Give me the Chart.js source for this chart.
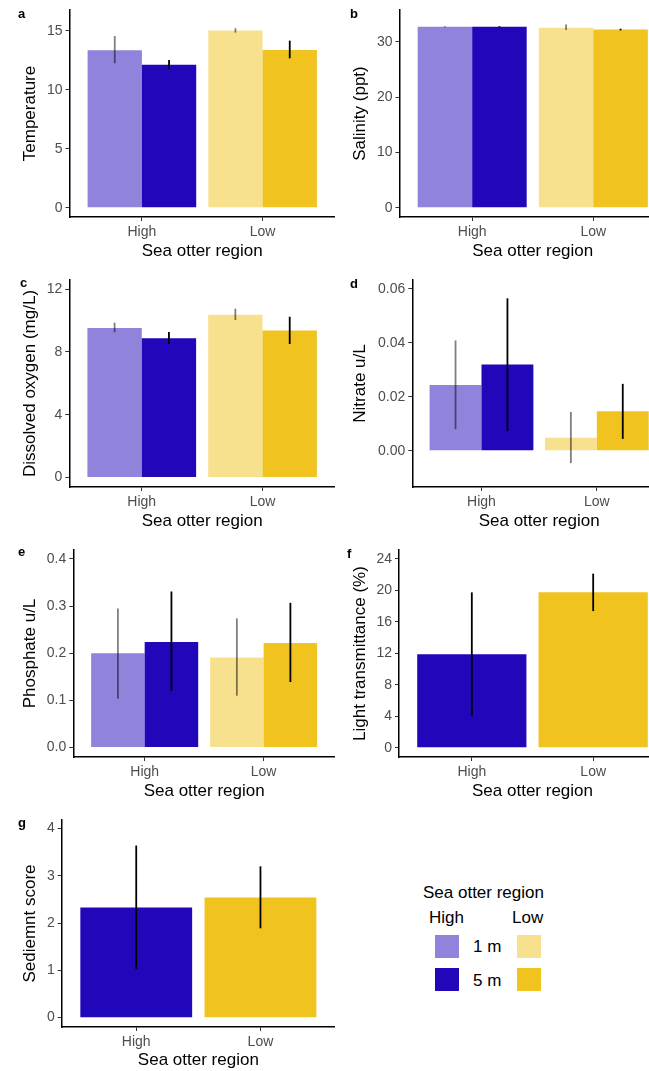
<!DOCTYPE html>
<html>
<head>
<meta charset="utf-8">
<script src="https://cdn.jsdelivr.net/npm/chart.js@4.4.1/dist/chart.umd.min.js"></script>
<style>
  html, body { margin: 0; padding: 0; background: #fff; }
  body { width: 649px; height: 1071px; position: relative; overflow: hidden;
         font-family: 'Liberation Sans', Arial, Helvetica, sans-serif; }
  canvas { position: absolute; }
  .tag { position: absolute; font-weight: bold; font-size: 13px; line-height: 13px; color: #000; }
  .lg { position: absolute; font-size: 17px; line-height: 20px; color: #000; white-space: nowrap; }
  .sw { position: absolute; width: 24px; height: 23px; }
</style>
</head>
<body>
<canvas id="chartA"></canvas>
<canvas id="chartB"></canvas>
<canvas id="chartC"></canvas>
<canvas id="chartD"></canvas>
<canvas id="chartE"></canvas>
<canvas id="chartF"></canvas>
<canvas id="chartG"></canvas>

<div class="tag" style="left:18px;top:7px">a</div>
<div class="tag" style="left:350px;top:7px">b</div>
<div class="tag" style="left:20px;top:276px">c</div>
<div class="tag" style="left:350px;top:277px">d</div>
<div class="tag" style="left:18px;top:545px">e</div>
<div class="tag" style="left:347px;top:547px">f</div>
<div class="tag" style="left:18px;top:816px">g</div>

<!-- legend -->
<div class="lg" style="left:423px;top:883px">Sea otter region</div>
<div class="lg" style="left:429px;top:908px">High</div>
<div class="lg" style="left:512px;top:908px">Low</div>
<div class="sw" style="left:435px;top:935px;background:rgba(33,7,186,0.5)"></div>
<div class="sw" style="left:517px;top:935px;background:rgba(240,195,31,0.5)"></div>
<div class="sw" style="left:435px;top:968px;background:rgb(33,7,186)"></div>
<div class="sw" style="left:517px;top:968px;background:rgb(240,195,31)"></div>
<div class="lg" style="left:473px;top:937px">1 m</div>
<div class="lg" style="left:473px;top:971px">5 m</div>

<script>
const regions = ["High", "Low"];

// a: temperature
const tempMean1m = [13.36, 15.03];
const tempMean5m = [12.14, 13.39];
const tempErrLo1m = [12.26, 14.86];
const tempErrHi1m = [14.57, 15.23];
const tempErrLo5m = [11.75, 12.68];
const tempErrHi5m = [12.54, 14.18];
const tempTicks = [0, 5, 10, 15];

// b: salinity
const salMean1m = [32.7, 32.5];
const salMean5m = [32.7, 32.2];
const salErrLo1m = [32.6, 32.1];
const salErrHi1m = [32.8, 33.1];
const salErrLo5m = [32.6, 32.05];
const salErrHi5m = [32.8, 32.35];
const salTicks = [0, 10, 20, 30];

// c: dissolved oxygen
const oxyMean1m = [9.52, 10.37];
const oxyMean5m = [8.87, 9.37];
const oxyErrLo1m = [9.25, 10.03];
const oxyErrHi1m = [9.86, 10.75];
const oxyErrLo5m = [8.5, 8.5];
const oxyErrHi5m = [9.27, 10.24];
const oxyTicks = [0, 4, 8, 12];

// d: nitrate
const nitMean1m = [0.0244, 0.0048];
const nitMean5m = [0.0320, 0.0146];
const nitErrLo1m = [0.0080, -0.0046];
const nitErrHi1m = [0.0409, 0.0144];
const nitErrLo5m = [0.0073, 0.0044];
const nitErrHi5m = [0.0565, 0.0248];
const nitTicks = [0, 0.02, 0.04, 0.06];

// e: phosphate
const phoMean1m = [0.200, 0.191];
const phoMean5m = [0.224, 0.222];
const phoErrLo1m = [0.104, 0.110];
const phoErrHi1m = [0.295, 0.274];
const phoErrLo5m = [0.120, 0.139];
const phoErrHi5m = [0.331, 0.307];
const phoTicks = [0, 0.1, 0.2, 0.3, 0.4];

// f: light transmittance (5 m only)
const lightMean = [11.89, 19.75];
const lightErrLo = [3.99, 17.37];
const lightErrHi = [19.75, 22.13];
const lightTicks = [0, 4, 8, 12, 16, 20, 24];

// g: sediment score
const sedMean = [2.33, 2.54];
const sedErrLo = [1.03, 1.89];
const sedErrHi = [3.64, 3.20];
const sedTicks = [0, 1, 2, 3, 4];

const colors5m = ["rgb(33,7,186)", "rgb(240,195,31)"];
const colors1m = ["rgba(33,7,186,0.5)", "rgba(240,195,31,0.5)"];

Chart.defaults.font.family = "'Liberation Sans', Arial, Helvetica, sans-serif";

// vertical error bars on top of each bar
const errorBars = {
    id: "errorBars",
    afterDatasetsDraw(chart) {
        const ctx = chart.ctx;
        const yScale = chart.scales.y;
        chart.data.datasets.forEach((ds, di) => {
            const meta = chart.getDatasetMeta(di);
            meta.data.forEach((bar, i) => {
                ctx.save();
                ctx.strokeStyle = ds.errColor;
                ctx.lineWidth = 1.8;
                ctx.beginPath();
                ctx.moveTo(bar.x, yScale.getPixelForValue(ds.errLo[i]));
                ctx.lineTo(bar.x, yScale.getPixelForValue(ds.errHi[i]));
                ctx.stroke();
                ctx.restore();
            });
        });
    }
};

function barSet(label, means, lo, hi, colors, errColor) {
    return {
        label: label,
        data: means.map((v, i) => ({ x: i + 1, y: v })),
        backgroundColor: colors,
        borderWidth: 0,
        categoryPercentage: 0.9,
        barPercentage: 1,
        errLo: lo,
        errHi: hi,
        errColor: errColor
    };
}

function makePanel(p) {
    const canvas = document.getElementById(p.id);
    canvas.width = p.width;
    canvas.height = 270;
    canvas.style.left = p.left + "px";
    canvas.style.top = p.top + "px";

    new Chart(canvas.getContext("2d"), {
        type: "bar",
        data: { datasets: p.datasets },
        options: {
            responsive: false,
            animation: false,
            devicePixelRatio: 1,
            layout: { padding: { top: 10, left: 0, right: 0, bottom: 0 } },
            plugins: { legend: { display: false }, tooltip: { enabled: false } },
            scales: {
                x: {
                    type: "linear",
                    min: 0.4,
                    max: 2.6,
                    offset: false,
                    afterBuildTicks: s => { s.ticks = regions.map((r, i) => ({ value: i + 1 })); },
                    afterFit: s => { s.height = 53; s.paddingLeft = 0; s.paddingRight = 0; },
                    ticks: {
                        callback: v => regions[v - 1],
                        color: "#4D4D4D",
                        font: { size: 14 },
                        padding: 3,
                        maxRotation: 0,
                        autoSkip: false
                    },
                    grid: { display: true, drawOnChartArea: false, drawTicks: true, tickLength: 4, color: "#333", offset: false },
                    border: { display: true, color: "#000", width: 1.5 },
                    title: { display: true, text: "Sea otter region", color: "#000", font: { size: 17 }, padding: { top: 0, bottom: p.xPad } }
                },
                y: {
                    min: p.yMin,
                    max: p.yMax,
                    afterBuildTicks: s => { s.ticks = p.ticks.map(v => ({ value: v })); },
                    afterFit: s => { s.width = p.axisX; s.paddingTop = 0; s.paddingBottom = 0; },
                    ticks: {
                        callback: v => v.toFixed(p.decimals),
                        color: "#4D4D4D",
                        font: { size: 14 },
                        padding: 3,
                        autoSkip: false
                    },
                    grid: { display: true, drawOnChartArea: false, drawTicks: true, tickLength: 4, color: "#333" },
                    border: { display: true, color: "#000", width: 1.5 },
                    title: { display: true, text: p.yTitle, color: "#000", font: { size: 17 }, padding: { top: p.titleX - 10.2, bottom: 0 } }
                }
            }
        },
        plugins: [errorBars]
    });
}

const grey = "rgba(0,0,0,0.5)";
const black = "#000";

makePanel({
    id: "chartA", left: 0, top: 0, width: 335, axisX: 69.5, titleX: 30, xPad: 8,
    yTitle: "Temperature", yMin: -0.79, yMax: 16.78, ticks: tempTicks, decimals: 0,
    datasets: [
        barSet("1 m", tempMean1m, tempErrLo1m, tempErrHi1m, colors1m, grey),
        barSet("5 m", tempMean5m, tempErrLo5m, tempErrHi5m, colors5m, black)
    ]
});

makePanel({
    id: "chartB", left: 325, top: 0, width: 341, axisX: 74.5, titleX: 35, xPad: 8,
    yTitle: "Salinity (ppt)", yMin: -1.68, yMax: 35.73, ticks: salTicks, decimals: 0,
    datasets: [
        barSet("1 m", salMean1m, salErrLo1m, salErrHi1m, colors1m, grey),
        barSet("5 m", salMean5m, salErrLo5m, salErrHi5m, colors5m, black)
    ]
});

makePanel({
    id: "chartC", left: 0, top: 270, width: 335, axisX: 69.3, titleX: 30, xPad: 8,
    yTitle: "Dissolved oxygen (mg/L)", yMin: -0.61, yMax: 12.58, ticks: oxyTicks, decimals: 0,
    datasets: [
        barSet("1 m", oxyMean1m, oxyErrLo1m, oxyErrHi1m, colors1m, grey),
        barSet("5 m", oxyMean5m, oxyErrLo5m, oxyErrHi5m, colors5m, black)
    ]
});

makePanel({
    id: "chartD", left: 325, top: 270, width: 341, axisX: 87.3, titleX: 35, xPad: 8,
    yTitle: "Nitrate u/L", yMin: -0.01344, yMax: 0.0633, ticks: nitTicks, decimals: 2,
    datasets: [
        barSet("1 m", nitMean1m, nitErrLo1m, nitErrHi1m, colors1m, grey),
        barSet("5 m", nitMean5m, nitErrLo5m, nitErrHi5m, colors5m, black)
    ]
});

makePanel({
    id: "chartE", left: 0, top: 540, width: 335, axisX: 73.3, titleX: 30, xPad: 8,
    yTitle: "Phosphate u/L", yMin: -0.02, yMax: 0.419, ticks: phoTicks, decimals: 1,
    datasets: [
        barSet("1 m", phoMean1m, phoErrLo1m, phoErrHi1m, colors1m, grey),
        barSet("5 m", phoMean5m, phoErrLo5m, phoErrHi5m, colors5m, black)
    ]
});

makePanel({
    id: "chartF", left: 325, top: 540, width: 341, axisX: 74, titleX: 35, xPad: 8,
    yTitle: "Light transmittance (%)", yMin: -1.19, yMax: 25.14, ticks: lightTicks, decimals: 0,
    datasets: [
        barSet("5 m", lightMean, lightErrLo, lightErrHi, colors5m, black)
    ]
});

makePanel({
    id: "chartG", left: 0, top: 810, width: 335, axisX: 61.7, titleX: 30, xPad: 9.5,
    yTitle: "Sediemnt score", yMin: -0.198, yMax: 4.18, ticks: sedTicks, decimals: 0,
    datasets: [
        barSet("5 m", sedMean, sedErrLo, sedErrHi, colors5m, black)
    ]
});
</script>
</body>
</html>
